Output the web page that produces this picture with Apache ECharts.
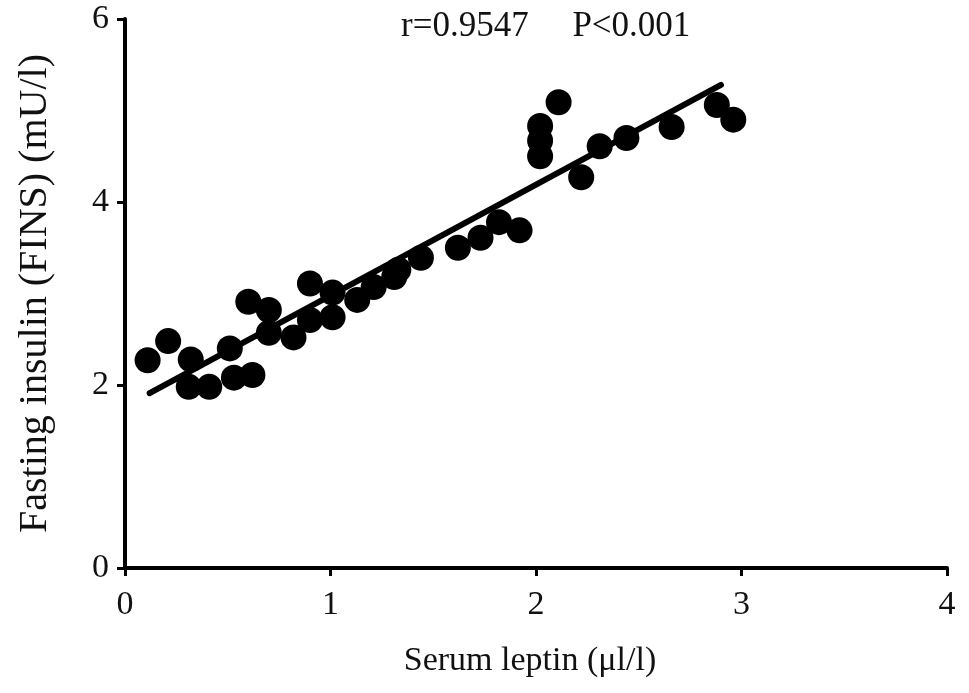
<!DOCTYPE html>
<html>
<head>
<meta charset="utf-8">
<script src="https://cdn.jsdelivr.net/npm/echarts@6/dist/echarts.min.js"></script>
<style>
  html, body { margin: 0; padding: 0; background: #fff; }
  #chart { width: 969px; height: 693px; }
</style>
</head>
<body>
<div id="chart"></div>
<script>
// serum leptin (x) vs fasting insulin (y)
const leptin = [
  0.11, 0.21, 0.32, 0.31, 0.41, 0.53, 0.62, 0.51, 0.60, 0.70,
  0.70, 0.82, 0.90, 0.90, 1.01, 1.01, 1.13, 1.21, 1.31, 1.33,
  1.44, 1.62, 1.73, 1.82, 1.92, 2.02, 2.02, 2.02, 2.11, 2.22,
  2.31, 2.44, 2.66, 2.88, 2.96
];
const insulin = [
  2.27, 2.48, 2.28, 1.98, 1.98, 2.08, 2.11, 2.40, 2.91, 2.82,
  2.57, 2.52, 3.11, 2.71, 3.01, 2.74, 2.93, 3.07, 3.18, 3.26,
  3.39, 3.50, 3.61, 3.78, 3.69, 4.83, 4.67, 4.50, 5.09, 4.27,
  4.61, 4.70, 4.82, 5.06, 4.90
];
// fitted line end points
const fitX = [0.12, 2.90];
const fitY = [1.91, 5.28];
const xTicks = [0, 1, 2, 3, 4];
const yTicks = [0, 2, 4, 6];

const font = "Liberation Serif";
const chart = echarts.init(document.getElementById("chart"));

const axisCommon = {
  axisLine: { lineStyle: { color: "#000", width: 4 } },
  axisTick: { inside: false, length: 8, lineStyle: { color: "#000", width: 3 } },
  splitLine: { show: false },
  axisLabel: { color: "#111", fontFamily: font, fontSize: 34 },
};

chart.setOption({
  animation: false,
  backgroundColor: "#fff",
  title: {
    text: "r=0.9547     P<0.001",
    left: 396,
    top: 4,
    textStyle: { color: "#111", fontFamily: font, fontSize: 35, fontWeight: "normal" },
  },
  grid: { left: 125, right: 22, top: 19, bottom: 125 },
  xAxis: {
    ...axisCommon,
    type: "value",
    min: xTicks[0],
    max: xTicks[xTicks.length - 1],
    interval: 1,
    axisLabel: { ...axisCommon.axisLabel, margin: 20 },
    name: "Serum leptin (μl/l)",
    nameLocation: "middle",
    nameGap: 76,
    nameTextStyle: { color: "#111", fontFamily: font, fontSize: 34, padding: [0, 12, 0, 0] },
  },
  yAxis: {
    ...axisCommon,
    type: "value",
    min: yTicks[0],
    max: yTicks[yTicks.length - 1],
    interval: 2,
    axisLabel: { ...axisCommon.axisLabel, margin: 16 },
    name: "Fasting insulin (FINS) (mU/l)",
    nameLocation: "middle",
    nameGap: 70,
    nameTextStyle: { color: "#111", fontFamily: font, fontSize: 40 },
  },
  series: [
    {
      type: "line",
      data: fitX.map((x, i) => [x, fitY[i]]),
      symbol: "none",
      lineStyle: { color: "#000", width: 6, cap: "round" },
      z: 2,
    },
    {
      type: "scatter",
      data: leptin.map((x, i) => [x, insulin[i]]),
      symbolSize: 26,
      itemStyle: { color: "#000", opacity: 1 },
      z: 3,
    },
  ],
});
</script>
</body>
</html>
